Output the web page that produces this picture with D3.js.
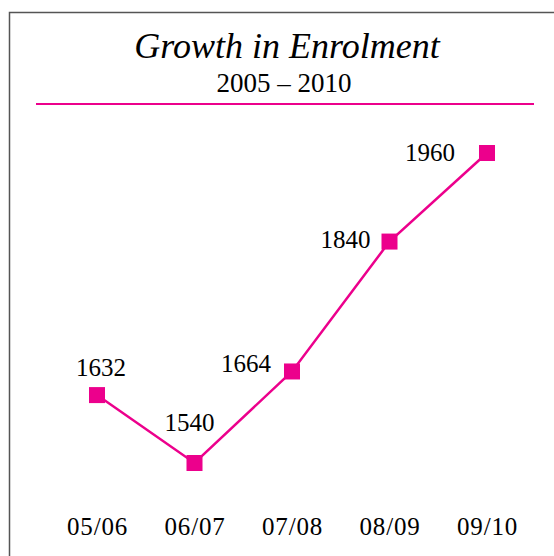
<!DOCTYPE html>
<html>
<head>
<meta charset="utf-8">
<script src="https://cdn.jsdelivr.net/npm/d3@7"></script>
<style>
  body { margin: 0; background: #fff; }
  svg { display: block; }
</style>
</head>
<body>
<div id="chart"></div>
<script>
// data
var years = ["05/06", "06/07", "07/08", "08/09", "09/10"];
var enrolment = [1632, 1540, 1664, 1840, 1960];

var pink = "#ec008c";
var serif = "'Liberation Serif', 'Times New Roman', serif";

// where each value label sits relative to its marker
var labelPos = [
    {anchor: "middle", dx: 4, dy: -19},
    {anchor: "middle", dx: -5, dy: -32},
    {anchor: "end", dx: -21, dy: 1},
    {anchor: "end", dx: -19, dy: 6},
    {anchor: "end", dx: -32, dy: 8}
];

var width = 554, height = 556;

var svg = d3.select("#chart").append("svg")
    .attr("width", width)
    .attr("height", height);

// frame (only left and top edges show)
svg.append("path")
    .attr("d", "M9.5," + height + "V12.5H" + width)
    .attr("fill", "none")
    .attr("stroke", "#555")
    .attr("stroke-width", 1.5);

svg.append("text")
    .attr("x", 287)
    .attr("y", 58)
    .attr("text-anchor", "middle")
    .style("font-family", serif)
    .style("font-style", "italic")
    .style("font-size", "36px")
    .text("Growth in Enrolment");

svg.append("text")
    .attr("x", 284)
    .attr("y", 92)
    .attr("text-anchor", "middle")
    .style("font-family", serif)
    .style("font-size", "27px")
    .text("2005 \u2013 2010");

svg.append("line")
    .attr("x1", 36).attr("x2", 534)
    .attr("y1", 104).attr("y2", 104)
    .attr("stroke", pink)
    .attr("stroke-width", 2);

var x = d3.scalePoint()
    .domain(years)
    .range([97, 487]);

var y = d3.scaleLinear()
    .domain([1540, 1960])
    .range([463, 153]);

var data = years.map(function (d, i) {
    return {year: d, value: enrolment[i], pos: labelPos[i]};
});

var xAxis = svg.append("g")
    .attr("transform", "translate(0,535)")
    .call(d3.axisBottom(x).tickSize(0).tickPadding(0));
xAxis.select(".domain").remove();
xAxis.selectAll("text")
    .attr("y", 0)
    .attr("dy", 0)
    .style("font-family", serif)
    .style("font-size", "25px")
    .style("letter-spacing", "0.8px")
    .attr("fill", "#000");

var line = d3.line()
    .x(function (d) { return x(d.year); })
    .y(function (d) { return y(d.value); });

svg.append("path")
    .datum(data)
    .attr("d", line)
    .attr("fill", "none")
    .attr("stroke", pink)
    .attr("stroke-width", 2.5);

svg.selectAll(".marker")
    .data(data)
    .enter().append("rect")
    .attr("class", "marker")
    .attr("x", function (d) { return x(d.year) - 8; })
    .attr("y", function (d) { return y(d.value) - 8; })
    .attr("width", 16)
    .attr("height", 16)
    .attr("fill", pink);

svg.selectAll(".label")
    .data(data)
    .enter().append("text")
    .attr("class", "label")
    .attr("x", function (d) { return x(d.year) + d.pos.dx; })
    .attr("y", function (d) { return y(d.value) + d.pos.dy; })
    .attr("text-anchor", function (d) { return d.pos.anchor; })
    .style("font-family", serif)
    .style("font-size", "25px")
    .text(function (d) { return d.value; });
</script>
</body>
</html>
